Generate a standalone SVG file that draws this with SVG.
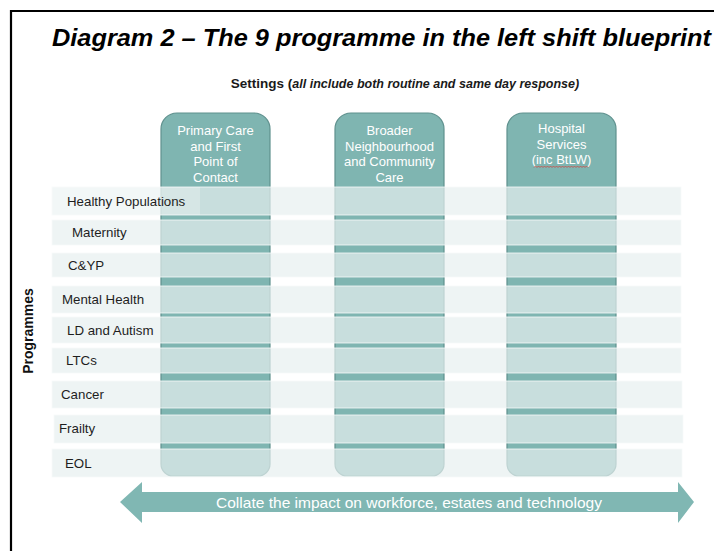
<svg xmlns="http://www.w3.org/2000/svg" width="714" height="551" viewBox="0 0 714 551">
  <style>
    .frame { fill: none; stroke: #000; stroke-width: 2.2; }
    .title { font-family: "Liberation Sans", Arial, sans-serif; font-size: 23.5px; font-weight: bold; font-style: italic; fill: #000; }
    .settings { font-family: "Liberation Sans", Arial, sans-serif; fill: #1a1a1a; }
    .pillar { fill: #7fb5b1; stroke: #5f918e; stroke-width: 1.2; }
    .head { font-family: "Liberation Sans", Arial, sans-serif; font-size: 13px; fill: #ffffff; text-anchor: middle; }
    .band { fill: #e7efef; fill-opacity: 0.7; stroke: #f6fafa; stroke-width: 1; stroke-opacity: 0.8; }
    .label { font-family: "Liberation Sans", Arial, sans-serif; font-size: 13.3px; fill: #1e1e1e; }
    .arrow { fill: #80b7b3; }
    .arrow-text { font-family: "Liberation Sans", Arial, sans-serif; font-size: 15px; fill: #ffffff; text-anchor: middle; }
    .axis { font-family: "Liberation Sans", Arial, sans-serif; font-size: 14px; font-weight: bold; fill: #111; text-anchor: middle; }
  </style>

  <!-- outer frame (left and top edges) -->
  <path class="frame" d="M11,551 V11 H714"/>

  <text class="title" x="52" y="46" textLength="659" lengthAdjust="spacingAndGlyphs">Diagram 2 – The 9 programme in the left shift blueprint</text>

  <text class="settings" x="405" y="88" text-anchor="middle"><tspan font-size="13.5px" font-weight="bold">Settings (</tspan><tspan font-size="12.5px" font-weight="bold" font-style="italic">all include both routine and same day response)</tspan></text>

  <!-- settings pillars -->
  <g id="primary-care">
    <path class="pillar" d="M161,129 A16,16 0 0 1 177,113 H254 A16,16 0 0 1 270,129 V464 A12,12 0 0 1 258,476 H173 A12,12 0 0 1 161,464 Z"/>
    <text class="head" x="215.5" y="135">Primary Care</text>
    <text class="head" x="215.5" y="151">and First</text>
    <text class="head" x="215.5" y="166">Point of</text>
    <text class="head" x="215.5" y="182">Contact</text>
  </g>
  <g id="community-care">
    <path class="pillar" d="M335,129 A16,16 0 0 1 351,113 H428 A16,16 0 0 1 444,129 V464 A12,12 0 0 1 432,476 H347 A12,12 0 0 1 335,464 Z"/>
    <text class="head" x="389.5" y="135">Broader</text>
    <text class="head" x="389.5" y="151">Neighbourhood</text>
    <text class="head" x="389.5" y="166">and Community</text>
    <text class="head" x="389.5" y="182">Care</text>
  </g>
  <g id="hospital-services">
    <path class="pillar" d="M507,129 A16,16 0 0 1 523,113 H600 A16,16 0 0 1 616,129 V464 A12,12 0 0 1 604,476 H519 A12,12 0 0 1 507,464 Z"/>
    <text class="head" x="561.5" y="133">Hospital</text>
    <text class="head" x="561.5" y="148.5">Services</text>
    <text class="head" x="561.5" y="164">(inc BtLW)</text>
    <path d="M534,167.5 l1.5,-1.5 l1.5,1.5 l1.5,-1.5 l1.5,1.5 l1.5,-1.5 l1.5,1.5 l1.5,-1.5 l1.5,1.5 l1.5,-1.5 l1.5,1.5 l1.5,-1.5 l1.5,1.5 l1.5,-1.5 l1.5,1.5 l1.5,-1.5 l1.5,1.5 l1.5,-1.5 l1.5,1.5 l1.5,-1.5 l1.5,1.5 l1.5,-1.5 l1.5,1.5 l1.5,-1.5 l1.5,1.5 l1.5,-1.5 l1.5,1.5 l1.5,-1.5 l1.5,1.5 l1.5,-1.5 l1.5,1.5 l1.5,-1.5 l1.5,1.5 l1.5,-1.5 l1.5,1.5 l1.5,-1.5 l1.5,1.5" fill="none" stroke="#c8504a" stroke-width="0.9"/>
  </g>

  <!-- programme rows -->
  <g id="healthy-populations">
    <rect class="band" x="52" y="187" width="629" height="28"/>
    <rect x="52" y="187" width="148" height="28" fill="#ffffff" fill-opacity="0.25"/>
    <text class="label" x="67" y="206">Healthy Populations</text>
  </g>
  <g id="maternity">
    <rect class="band" x="52" y="220" width="629" height="25"/>
    <text class="label" x="72" y="237">Maternity</text>
  </g>
  <g id="cyp">
    <rect class="band" x="52" y="253" width="629" height="24"/>
    <text class="label" x="68" y="270">C&amp;YP</text>
  </g>
  <g id="mental-health">
    <rect class="band" x="52" y="286" width="629" height="27"/>
    <text class="label" x="62" y="304">Mental Health</text>
  </g>
  <g id="ld-autism">
    <rect class="band" x="52" y="317" width="629" height="26"/>
    <text class="label" x="67" y="335">LD and Autism</text>
  </g>
  <g id="ltcs">
    <rect class="band" x="52" y="348" width="629" height="25"/>
    <text class="label" x="66" y="365">LTCs</text>
  </g>
  <g id="cancer">
    <rect class="band" x="52" y="381" width="630" height="27"/>
    <text class="label" x="61" y="399">Cancer</text>
  </g>
  <g id="frailty">
    <rect class="band" x="54" y="415" width="629" height="28"/>
    <text class="label" x="59" y="433">Frailty</text>
  </g>
  <g id="eol">
    <rect class="band" x="52" y="449" width="630" height="28"/>
    <text class="label" x="65" y="468">EOL</text>
  </g>

  <!-- cross-cutting impact arrow -->
  <g id="impact-arrow">
    <polygon class="arrow" points="120,502 142,482 142,492 678,492 678,482 694,502 678,523 678,512 142,512 142,523"/>
    <text class="arrow-text" x="409" y="507.5" textLength="386" lengthAdjust="spacingAndGlyphs">Collate the impact on workforce, estates and technology</text>
  </g>

  <g id="programmes-axis">
    <text class="axis" transform="translate(33,331) rotate(-90)">Programmes</text>
  </g>

  <g id="connectors"/>
</svg>
